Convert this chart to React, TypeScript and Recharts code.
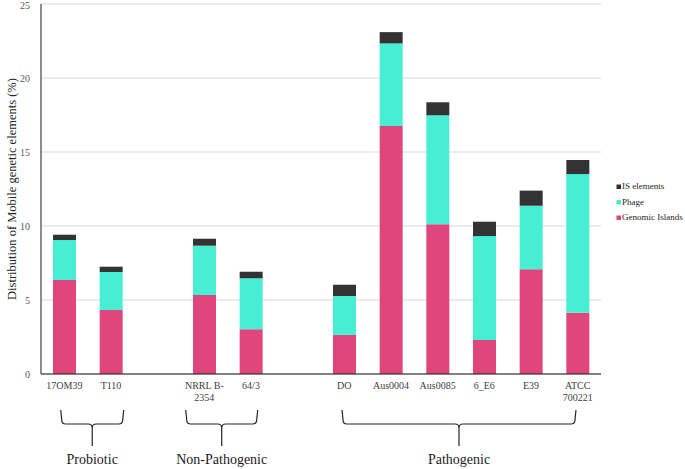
import { Bar, BarChart, CartesianGrid, XAxis, YAxis } from 'recharts'

// categories (empty strings are the spacer slots between groups)
const STRAINS = [
  '17OM39',
  'T110',
  '',
  'NRRL B-\n2354',
  '64/3',
  '',
  'DO',
  'Aus0004',
  'Aus0085',
  '6_E6',
  'E39',
  'ATCC\n700221',
]

const GENOMIC_ISLANDS = [6.35, 4.32, null, 5.34, 3.02, null, 2.64, 16.76, 10.11, 2.3, 7.07, 4.14]
const PHAGE = [2.7, 2.57, null, 3.33, 3.45, null, 2.63, 5.58, 7.37, 7.02, 4.3, 9.37]
const IS_ELEMENTS = [0.36, 0.36, null, 0.47, 0.44, null, 0.76, 0.76, 0.88, 0.97, 1.02, 0.95]

const Y_TICKS = [0, 5, 10, 15, 20, 25]

const GROUPS = [
  { label: 'Probiotic', first: 0, last: 1 },
  { label: 'Non-Pathogenic', first: 3, last: 4 },
  { label: 'Pathogenic', first: 6, last: 11 },
]

const COLORS = {
  islands: '#e0467b',
  phage: '#46eed4',
  is: '#333333',
}

const FONT = 'Liberation Serif'

const WIDTH = 685
const HEIGHT = 469
const MARGIN = { top: 4, right: 84, bottom: 65, left: 0 }
const Y_AXIS_W = 41
const X_AXIS_H = 30

const data = STRAINS.map((name, i) => ({
  name,
  islands: GENOMIC_ISLANDS[i],
  phage: PHAGE[i],
  is: IS_ELEMENTS[i],
}))

const legendItems = [
  { key: 'is', label: 'IS elements', color: COLORS.is },
  { key: 'phage', label: 'Phage', color: COLORS.phage },
  { key: 'islands', label: 'Genomic Islands', color: COLORS.islands },
]

// brace ends sit a little off the bar centres in the original
const BRACE_OFFSETS = [
  [-2.6, 11.7],
  [-17.6, 5.7],
  [-1.3, -2.7],
]

function XTick({ x, y, payload }: any) {
  const lines = String(payload.value).split('\n')
  return (
    <text x={x} y={y} textAnchor="middle" fill="#404040" fontSize={10} fontFamily={FONT}>
      {lines.map((line, i) => (
        <tspan key={i} x={x} dy={i === 0 ? '0.71em' : '1.15em'}>
          {line}
        </tspan>
      ))}
    </text>
  )
}

function bracePath(x1: number, x2: number, yTop: number, yMid: number, yTip: number) {
  const cx = (x1 + x2) / 2
  const r = 4
  return [
    `M ${x1 - 1} ${yTop}`,
    `L ${x1} ${yMid - r}`,
    `Q ${x1} ${yMid} ${x1 + r} ${yMid}`,
    `L ${cx - r} ${yMid}`,
    `Q ${cx} ${yMid} ${cx} ${yMid + r}`,
    `L ${cx} ${yTip}`,
    `M ${cx} ${yMid + r}`,
    `Q ${cx} ${yMid} ${cx + r} ${yMid}`,
    `L ${x2 - r} ${yMid}`,
    `Q ${x2} ${yMid} ${x2} ${yMid - r}`,
    `L ${x2 + 1} ${yTop}`,
  ].join(' ')
}

export default function App() {
  const plotLeft = MARGIN.left + Y_AXIS_W
  const plotWidth = WIDTH - plotLeft - MARGIN.right
  const plotTop = MARGIN.top
  const plotHeight = HEIGHT - MARGIN.top - MARGIN.bottom - X_AXIS_H
  const slot = plotWidth / STRAINS.length
  const center = (i: number) => plotLeft + (i + 0.5) * slot

  return (
    <div style={{ position: 'absolute', left: 0, top: 0, width: WIDTH, height: HEIGHT, background: '#fff' }}>
      <BarChart width={WIDTH} height={HEIGHT} data={data} margin={MARGIN}>
        <CartesianGrid stroke="#d9d9d9" vertical={false} />
        <XAxis
          dataKey="name"
          interval={0}
          height={X_AXIS_H}
          tickLine={false}
          axisLine={{ stroke: '#1a1a1a' }}
          tick={<XTick />}
        />
        <YAxis
          width={Y_AXIS_W}
          domain={[0, 25]}
          ticks={Y_TICKS}
          tickLine={false}
          tickMargin={5}
          axisLine={{ stroke: '#1a1a1a' }}
          tick={{ fill: '#595959', fontSize: 10, fontFamily: FONT }}
          label={({ viewBox }: any) => {
            const cy = (viewBox?.y ?? plotTop) + (viewBox?.height ?? plotHeight) / 2
            return (
              <text
                x={12}
                y={cy}
                transform={`rotate(-90, 12, ${cy})`}
                textAnchor="middle"
                dominantBaseline="central"
                fill="#262626"
                fontSize={12.5}
                fontFamily={FONT}
              >
                Distribution of Mobile genetic elements (%)
              </text>
            )
          }}
        />
        <Bar dataKey="islands" name="Genomic Islands" stackId="a" fill={COLORS.islands} barSize={23} isAnimationActive={false} />
        <Bar dataKey="phage" name="Phage" stackId="a" fill={COLORS.phage} barSize={23} isAnimationActive={false} />
        <Bar dataKey="is" name="IS elements" stackId="a" fill={COLORS.is} barSize={23} isAnimationActive={false} />
      </BarChart>

      <svg width={WIDTH} height={HEIGHT} style={{ position: 'absolute', left: 0, top: 0, pointerEvents: 'none' }}>
        {GROUPS.map((g, i) => {
          const x1 = center(g.first) + BRACE_OFFSETS[i][0]
          const x2 = center(g.last) + BRACE_OFFSETS[i][1]
          return (
            <g key={g.label}>
              <path d={bracePath(x1, x2, 410, 424, 446)} fill="none" stroke="#262626" strokeWidth={1.2} />
              <text x={(x1 + x2) / 2} y={464} textAnchor="middle" fill="#1a1a1a" fontSize={14} fontFamily={FONT}>
                {g.label}
              </text>
            </g>
          )
        })}
        {legendItems.map((item, i) => (
          <g key={item.key}>
            <rect x={616.5} y={184.5 + i * 15.5} width={4.5} height={4.5} fill={item.color} />
            <text x={622} y={187 + i * 15.5} dominantBaseline="middle" fill="#262626" fontSize={9} fontFamily={FONT}>
              {item.label}
            </text>
          </g>
        ))}
      </svg>
    </div>
  )
}
